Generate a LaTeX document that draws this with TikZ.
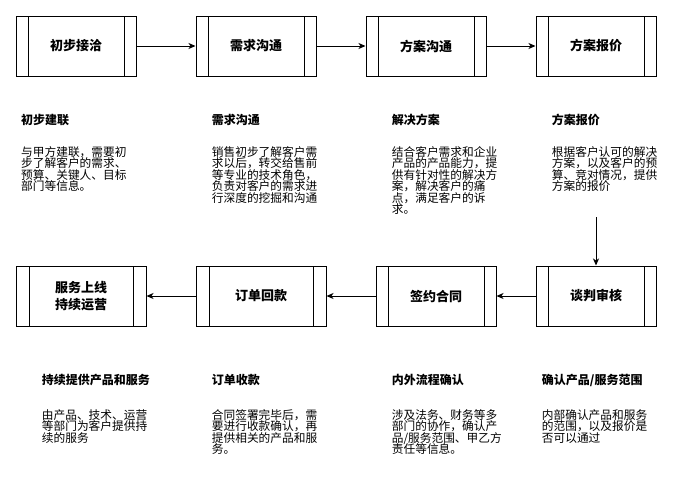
\documentclass[tikz,border=0pt]{standalone}
\usepackage{fontspec}
\setmainfont{Noto Sans CJK SC}
\usetikzlibrary{arrows.meta}
\newcommand\bodylines[1]{\vtop{\lineskiplimit=-\maxdimen\baselineskip=11.5pt\halign{##\hfil\cr#1\crcr}}}
\newcommand\boxlines[1]{\vbox{\lineskiplimit=-\maxdimen\baselineskip=16.7pt\halign{\hfil##\hfil\cr#1\crcr}}}
\begin{document}
\begin{tikzpicture}[x=1pt,y=-1pt,
  proc/.style={draw=black, line width=1pt, fill=white, minimum height=60pt,
    minimum width=120pt, inner sep=0pt,
    font=\fontsize{13}{16.7}\selectfont\bfseries,
    path picture={
      \draw[line width=1pt] ([xshift=12pt]path picture bounding box.north west) -- ([xshift=12pt]path picture bounding box.south west);
      \draw[line width=1pt] ([xshift=-12pt]path picture bounding box.north east) -- ([xshift=-12pt]path picture bounding box.south east);
    }},
  procw/.style={draw=black, line width=1pt, fill=white, minimum height=60pt,
    minimum width=130pt, inner sep=0pt,
    font=\fontsize{13}{16.7}\selectfont\bfseries,
    path picture={
      \draw[line width=1pt] ([xshift=13pt]path picture bounding box.north west) -- ([xshift=13pt]path picture bounding box.south west);
      \draw[line width=1pt] ([xshift=-13pt]path picture bounding box.north east) -- ([xshift=-13pt]path picture bounding box.south east);
    }},
  flow/.style={line width=1pt, -{Stealth[length=7pt,width=6pt,inset=2pt]}},
  head/.style={anchor=base west, inner sep=0pt, font=\fontsize{12}{14}\selectfont\bfseries},
  body/.style={anchor=base west, inner sep=0pt, font=\fontsize{11.7}{11.5}\selectfont},
]
\useasboundingbox (0,0) rectangle (683,493);

% top row
\node[proc] (n1) at (76,46) {初步接洽};
\node[proc] (n2) at (256,46) {需求沟通};
\node[proc] (n3) at (426,46) {方案沟通};
\node[proc] (n4) at (596,46) {方案报价};
% bottom row
\node[proc] (n5) at (596,296) {谈判审核};
\node[proc] (n6) at (436,296) {签约合同};
\node[procw] (n7) at (261,296) {订单回款};
\node[procw] (n8) at (81,296) {\boxlines{服务上线\cr 持续运营}};

\coordinate (vs) at (596,217);

\draw[flow] (n1) -- (n2);
\draw[flow] (n2) -- (n3);
\draw[flow] (n3) -- (n4);
\draw[flow] (vs) -- (n5);
\draw[flow] (n5) -- (n6);
\draw[flow] (n6) -- (n7);
\draw[flow] (n7) -- (n8);

% top descriptions
\node[head] (h1) at (21,124.6) {初步建联};
\node[body] (b1) at (21,156.1) {\bodylines{与甲方建联，需要初\cr 步了解客户的需求、\cr 预算、关键人、目标\cr 部门等信息。}};
\node[head] (h2) at (211.7,124.6) {需求沟通};
\node[body] (b2) at (211.7,156.1) {\bodylines{销售初步了解客户需\cr 求以后，转交给售前\cr 等专业的技术角色，\cr 负责对客户的需求进\cr 行深度的挖掘和沟通}};
\node[head] (h3) at (391.7,124.6) {解决方案};
\node[body] (b3) at (391.7,156.1) {\bodylines{结合客户需求和企业\cr 产品的产品能力，提\cr 供有针对性的解决方\cr 案，解决客户的痛\cr 点，满足客户的诉\cr 求。}};
\node[head] (h4) at (551.7,124.6) {方案报价};
\node[body] (b4) at (551.7,156.1) {\bodylines{根据客户认可的解决\cr 方案，以及客户的预\cr 算、竞对情况，提供\cr 方案的报价}};

% bottom descriptions
\node[head] (h5) at (41.7,384.6) {持续提供产品和服务};
\node[body] (b5) at (41.7,419.4) {\bodylines{由产品、技术、运营\cr 等部门为客户提供持\cr 续的服务}};
\node[head] (h6) at (211.7,384.6) {订单收款};
\node[body] (b6) at (211.7,419.4) {\bodylines{合同签署完毕后，需\cr 要进行收款确认，再\cr 提供相关的产品和服\cr 务。}};
\node[head] (h7) at (391.7,384.6) {内外流程确认};
\node[body] (b7) at (391.7,419.4) {\bodylines{涉及法务、财务等多\cr 部门的协作，确认产\cr 品/服务范围、甲乙方\cr 责任等信息。}};
\node[head] (h8) at (541.7,384.6) {确认产品/服务范围};
\node[body] (b8) at (541.7,419.4) {\bodylines{内部确认产品和服务\cr 的范围，以及报价是\cr 否可以通过}};
\end{tikzpicture}
\end{document}
